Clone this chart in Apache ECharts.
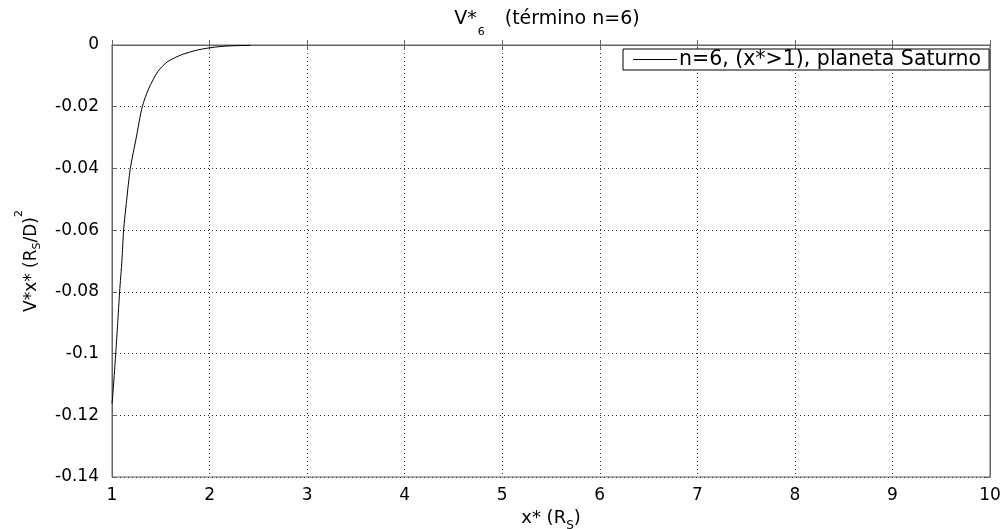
<!DOCTYPE html>
<html>
<head>
<meta charset="utf-8">
<script src="https://cdn.jsdelivr.net/npm/echarts@6/dist/echarts.min.js"></script>
<style>
  html, body { margin: 0; padding: 0; background: #fff; }
  #chart { width: 1008px; height: 529px; }
</style>
</head>
<body>
<div id="chart"></div>
<script>
// Sixth-order term of the potential, Saturn, for x* > 1
const xValues = [1.000, 1.004, 1.014, 1.038, 1.058, 1.078, 1.102, 1.119, 1.150, 1.188,
                 1.250, 1.310, 1.378, 1.470, 1.570, 1.710, 1.880, 2.050, 2.200, 2.420];
const yValues = [-0.1162, -0.1150, -0.1110, -0.1000, -0.0903, -0.0800, -0.0698, -0.0600, -0.0503, -0.0400,
                 -0.0298, -0.0200, -0.0140, -0.0086, -0.0054, -0.0032, -0.0016, -0.0007, -0.0003, -0.0001];
const xTicks = [1, 2, 3, 4, 5, 6, 7, 8, 9, 10];
const yTicks = [0, -0.02, -0.04, -0.06, -0.08, -0.1, -0.12, -0.14];
const seriesName = 'n=6, (x*>1), planeta Saturno';

const points = xValues.map((x, i) => [x, yValues[i]]);
const font = '"DejaVu Sans", Verdana, sans-serif';
const frameColor = '#666';

const chart = echarts.init(document.getElementById('chart'), null, { renderer: 'canvas' });

const baseAxisX = {
  type: 'value', min: xTicks[0], max: xTicks[xTicks.length - 1], interval: 1
};
const baseAxisY = {
  type: 'value', min: yTicks[yTicks.length - 1], max: yTicks[0], interval: 0.02
};

// main text run
const main = (size) => ({
  fontSize: size, lineHeight: 20, color: '#000', fontFamily: font, fontWeight: 'normal'
});
// sub/superscript run, shifted by uneven padding around a middle-aligned token
const script = (size, padding) => ({
  fontSize: size, padding: padding, color: '#000', fontFamily: font, fontWeight: 'normal'
});

chart.setOption({
  animation: false,
  backgroundColor: '#fff',
  textStyle: { fontFamily: font },
  title: {
    text: '{b|V*}{s|6}{b|(término n=6)}',
    left: 547, top: 1, padding: 0, textAlign: 'center',
    textStyle: {
      fontWeight: 'normal',
      rich: { b: main(19), s: script(11, [26, 20, 0, 1]) }
    }
  },
  grid: {
    left: 112, right: 18, top: 45, bottom: 52,
    outerBoundsMode: 'none',
    show: true, borderColor: frameColor, borderWidth: 1, backgroundColor: '#fff'
  },
  legend: {
    left: 623, top: 49,
    orient: 'horizontal',
    backgroundColor: '#fff', borderColor: '#000', borderWidth: 1,
    padding: [0, 8, 0, 10],
    itemWidth: 44, itemHeight: 1, itemGap: 4,
    icon: 'rect',
    textStyle: { fontSize: 20.5, lineHeight: 20, color: '#000', fontFamily: font, padding: [0, 0, 0, -3] },
    data: [{ name: seriesName, itemStyle: { color: '#000' } }]
  },
  xAxis: [
    Object.assign({}, baseAxisX, {
      position: 'bottom',
      name: '{b|x* (R}{s|S}{b|)}',
      nameLocation: 'middle', nameGap: 9,
      nameTextStyle: { rich: { b: main(18), s: script(12, [15, 0, 0, 0]) } },
      axisLine: { show: true, lineStyle: { color: frameColor, width: 1 } },
      axisTick: { show: true, inside: true, length: 5, lineStyle: { color: frameColor } },
      axisLabel: { show: true, fontSize: 17, color: '#000', margin: 10, fontFamily: font },
      splitLine: { show: true, lineStyle: { color: '#333', type: [1, 3], width: 1 } }
    }),
    Object.assign({}, baseAxisX, {
      position: 'top',
      axisLine: { show: true, lineStyle: { color: frameColor, width: 1 } },
      axisTick: { show: true, inside: true, length: 5, lineStyle: { color: frameColor } },
      axisLabel: { show: false },
      splitLine: { show: false }
    })
  ],
  yAxis: [
    Object.assign({}, baseAxisY, {
      position: 'left',
      name: '{b|V*x* (R}{s|S}{b|/D)}{p|2}',
      nameLocation: 'middle', nameGap: 63, nameRotate: 90,
      nameTextStyle: {
        rich: { b: main(17), s: script(11, [12, 0, 0, 0]), p: script(11, [0, 0, 24, 0]) }
      },
      axisLine: { show: true, lineStyle: { color: frameColor, width: 1 } },
      axisTick: { show: true, inside: true, length: 5, lineStyle: { color: frameColor } },
      axisLabel: { show: true, fontSize: 17, color: '#000', margin: 13, fontFamily: font },
      splitLine: { show: true, lineStyle: { color: '#333', type: [1, 3], width: 1 } }
    }),
    Object.assign({}, baseAxisY, {
      position: 'right',
      axisLine: { show: true, lineStyle: { color: frameColor, width: 1 } },
      axisTick: { show: true, inside: true, length: 5, lineStyle: { color: frameColor } },
      axisLabel: { show: false },
      splitLine: { show: false }
    })
  ],
  series: [{
    name: seriesName,
    type: 'line',
    xAxisIndex: 0, yAxisIndex: 0,
    data: points,
    showSymbol: false,
    smooth: 0.25,
    lineStyle: { color: '#000', width: 1 },
    itemStyle: { color: '#000' },
    z: 3
  }]
});
</script>
</body>
</html>
